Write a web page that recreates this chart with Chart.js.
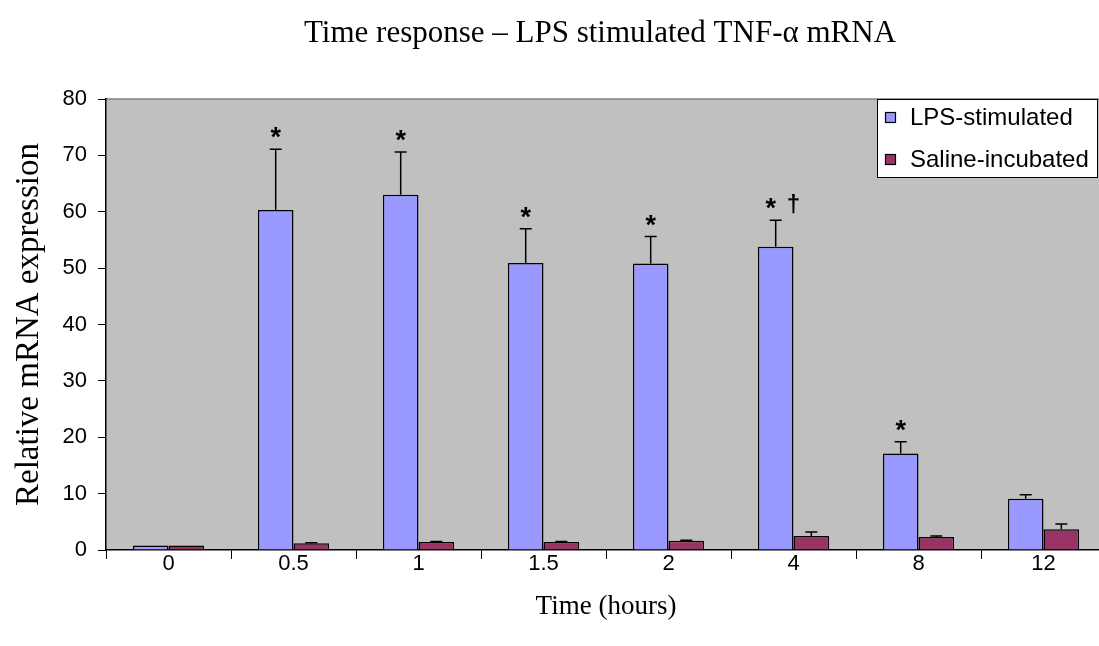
<!DOCTYPE html>
<html><head><meta charset="utf-8">
<script src="https://cdn.jsdelivr.net/npm/chart.js@4.4.1/dist/chart.umd.min.js"></script>
<style>
html,body{margin:0;padding:0;background:#fff;overflow:hidden;}
#wrap{width:1099px;height:646px;overflow:hidden;position:relative;}
#c{position:absolute;left:0;top:0;}
</style></head><body>
<div id="wrap"><canvas id="c" width="1108" height="646" style="width:1108px;height:646px"></canvas></div>
<script>
const categories = ['0', '0.5', '1', '1.5', '2', '4', '8', '12'];
const lpsValues = [0.8, 60.3, 63.0, 50.9, 50.8, 53.8, 17.1, 9.1];
const lpsErrors = [0, 10.8, 7.6, 6.1, 4.8, 4.7, 2.1, 0.7];
const salineValues = [0.8, 1.2, 1.4, 1.4, 1.65, 2.5, 2.3, 3.7];
const salineErrors = [0, 0.1, 0.1, 0.1, 0.1, 0.7, 0.2, 0.9];
const significance = ['', '*', '*', '*', '*', '* \u2020', '*', ''];
const seriesNames = ['LPS-stimulated', 'Saline-incubated'];
const seriesColors = ['#9999FF', '#993366'];
const titleText = 'Time response \u2013 LPS stimulated TNF-\u03b1 mRNA';
const xTitle = 'Time (hours)';
const yTitle = 'Relative mRNA expression';
const yMin = 0, yMax = 80, yStep = 10;
const errorSets = [lpsErrors, salineErrors];

const SANS = '"Liberation Sans", Arial, sans-serif';
const SERIF = '"Liberation Serif", "Times New Roman", serif';

const extras = {
  id: 'extras',
  beforeDraw(chart) {
    const {ctx, chartArea: a} = chart;
    ctx.save();
    ctx.fillStyle = '#C0C0C0';
    ctx.fillRect(a.left, a.top, a.right - a.left, a.bottom - a.top);
    ctx.strokeStyle = '#808080';
    ctx.lineWidth = 1.5;
    ctx.beginPath(); ctx.moveTo(a.left, a.top); ctx.lineTo(a.right, a.top); ctx.stroke();
    ctx.restore();
  },
  afterDatasetsDraw(chart) {
    const {ctx} = chart;
    const ys = chart.scales.y;
    ctx.save();
    ctx.strokeStyle = '#000';
    ctx.lineWidth = 1.5;
    chart.data.datasets.forEach((ds, di) => {
      const meta = chart.getDatasetMeta(di);
      const errs = errorSets[di];
      meta.data.forEach((bar, i) => {
        const e = errs[i];
        const topPx = ys.getPixelForValue(ds.data[i] + e);
        if (e > 0) {
          ctx.beginPath();
          ctx.moveTo(bar.x, bar.y); ctx.lineTo(bar.x, topPx);
          ctx.moveTo(bar.x - 6, topPx); ctx.lineTo(bar.x + 6, topPx);
          ctx.stroke();
        }
        if (di === 0 && significance[i]) {
          ctx.fillStyle = '#000';
          ctx.font = 'bold 27px ' + SANS;
          ctx.textBaseline = 'alphabetic';
          const parts = significance[i].split(' ');
          const starW = ctx.measureText(parts[0]).width;
          ctx.textAlign = 'left';
          ctx.fillText(parts[0], bar.x - starW / 2 - (parts.length > 1 ? 5 : 0), topPx - 3);
          if (parts.length > 1) {
            ctx.font = 'bold 24px ' + SANS;
            ctx.fillText(parts[1], bar.x + 11, topPx - 8);
          }
        }
      });
    });
    ctx.restore();
  },
  afterDraw(chart) {
    const {ctx} = chart;
    ctx.save();
    ctx.fillStyle = '#000';
    ctx.font = '31px ' + SERIF;
    ctx.textAlign = 'center';
    ctx.textBaseline = 'middle';
    ctx.fillText(titleText, 600, 34);
    const bx = 877, by = 99, bw = 220, bh = 78;
    ctx.fillStyle = '#fff';
    ctx.fillRect(bx, by, bw, bh);
    ctx.strokeStyle = '#000';
    ctx.lineWidth = 1;
    ctx.strokeRect(bx + 0.5, by + 0.5, bw, bh);
    const rows = [117, 159];
    ctx.font = '24px ' + SANS;
    ctx.textAlign = 'left';
    ctx.textBaseline = 'middle';
    seriesNames.forEach((n, i) => {
      ctx.fillStyle = seriesColors[i];
      ctx.fillRect(885, rows[i] - 5, 11, 11);
      ctx.strokeStyle = '#000';
      ctx.lineWidth = 1.2;
      ctx.strokeRect(885.5, rows[i] - 4.5, 10, 10);
      ctx.fillStyle = '#000';
      ctx.fillText(n, 910, rows[i] + 1);
    });
    ctx.restore();
  }
};

new Chart(document.getElementById('c'), {
  type: 'bar',
  data: {
    labels: categories,
    datasets: [
      {label: seriesNames[0], data: lpsValues, backgroundColor: seriesColors[0], borderColor: '#000', borderWidth: 1.5, borderSkipped: 'start'},
      {label: seriesNames[1], data: salineValues, backgroundColor: seriesColors[1], borderColor: '#000', borderWidth: 1.5, borderSkipped: 'start'}
    ]
  },
  options: {
    responsive: false,
    animation: false,
    layout: {padding: {top: 99, left: 0, right: 2, bottom: 0}},
    datasets: {bar: {categoryPercentage: 0.57, barPercentage: 1.0}},
    plugins: {legend: {display: false}, title: {display: false}, tooltip: {enabled: false}},
    scales: {
      x: {
        offset: true,
        grid: {drawOnChartArea: false, color: '#000', tickLength: 9, offset: true, lineWidth: 1},
        border: {color: '#000', width: 1.5},
        ticks: {font: {family: SANS, size: 22}, color: '#000', padding: -8},
        title: {display: true, text: xTitle, font: {family: SERIF, size: 27}, color: '#000', padding: {top: 0, bottom: 23}},
        afterFit(s) { s.height = 96; }
      },
      y: {
        min: yMin, max: yMax,
        ticks: {stepSize: yStep, font: {family: SANS, size: 22}, color: '#000', padding: 11},
        grid: {drawOnChartArea: false, color: '#000', tickLength: 8, lineWidth: 1},
        border: {color: '#000', width: 1.5},
        title: {display: true, text: yTitle, font: {family: SERIF, size: 33}, color: '#000', padding: {top: 10, bottom: 0}},
        afterFit(s) { s.width = 106; }
      }
    }
  },
  plugins: [extras]
});
</script>
</body></html>
